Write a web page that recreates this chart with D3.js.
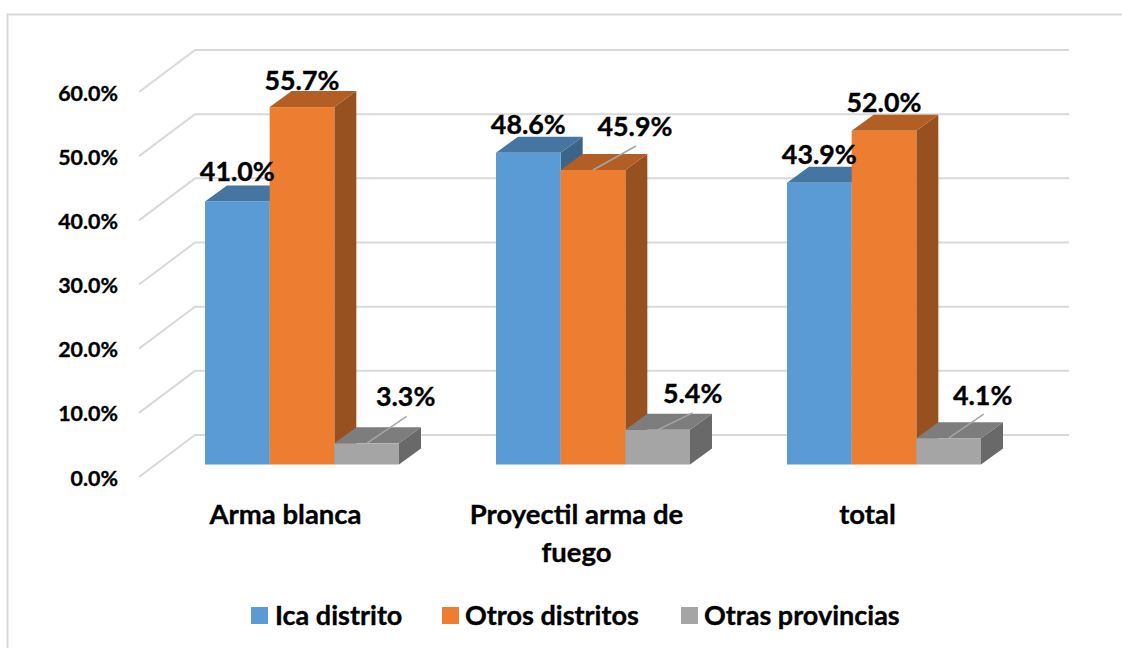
<!DOCTYPE html>
<html><head><meta charset="utf-8">
<script src="https://cdnjs.cloudflare.com/ajax/libs/d3/7.8.5/d3.min.js"></script>
<style>html,body{margin:0;padding:0;background:#fff}svg{display:block}text{font-family:Lato,Carlito,sans-serif;font-weight:700;fill:#000;stroke:#000;stroke-width:.35px}</style>
</head><body><svg id="c" width="1122" height="648"></svg>
<script>
const categories = ["Arma blanca", "Proyectil arma de fuego", "total"];
const seriesNames = ["Ica distrito", "Otros distritos", "Otras provincias"];
const icaDistrito = [41.0, 48.6, 43.9];
const otrosDistritos = [55.7, 45.9, 52.0];
const otrasProvincias = [3.3, 5.4, 4.1];
const tickValues = [0, 10, 20, 30, 40, 50, 60];
const seriesValues = [icaDistrito, otrosDistritos, otrasProvincias];
const front = ["#5b9bd5", "#ed7d31", "#a5a5a5"];
const topC = ["#4575a1", "#b25e25", "#7d7d7d"];
const side = ["#3c6488", "#97501f", "#696969"];
const fmt = v => v.toFixed(1) + "%";

const svg = d3.select("#c");
svg.append("path").attr("d","M7.5 648V14.5H1122").attr("fill","none").attr("stroke","#d9d9d9").attr("stroke-width",2);

// 3D geometry
const wallDx = 56, wallDy = -42, barDx = 22, barDy = -16;
const h = d3.scaleLinear().domain([0, 60]).range([0, 385]);
const wallY = v => 435 - h(v);
const frontY = v => 464.5 - h(v);
const x0 = d3.scaleBand().domain(categories).range([141, 1014]).paddingInner(0).paddingOuter(0);
const x1 = d3.scaleBand().domain(seriesNames).range([64, 258]);

const grid = svg.append("g");
tickValues.forEach(t => {
  grid.append("path")
    .attr("d", `M139 ${wallY(t) - wallDy}L${139 + wallDx} ${wallY(t)}H1069`)
    .attr("fill","none").attr("stroke","#d9d9d9").attr("stroke-width",2);
  svg.append("text").attr("x",118).attr("y",wallY(t)-wallDy+8.5).attr("text-anchor","end")
    .attr("font-size",21.4).text(fmt(t));
});

const bars = svg.append("g");
categories.forEach((c, ci) => {
  seriesNames.forEach((s, si) => {
    const v = seriesValues[si][ci];
    const l = x0(c) + x1(s), w = x1.bandwidth(), r = l + w, t = frontY(v), b = frontY(0);
    const g = bars.append("g");
    g.append("path").attr("fill", side[si])
      .attr("d", `M${r} ${t}L${r+barDx} ${t+barDy}V${b+barDy}L${r} ${b}Z`);
    g.append("path").attr("fill", topC[si])
      .attr("d", `M${l} ${t}L${l+barDx} ${t+barDy}H${r+barDx}L${r} ${t}Z`);
    g.append("rect").attr("x", l).attr("y", t).attr("width", w).attr("height", b - t).attr("fill", front[si]);
  });
});

// leader lines for the displaced labels
const leaders = [[1,1,43,-24],[2,0,40,-27],[2,1,35,-17],[2,2,35,-24]];
leaders.forEach(([si,ci,dx,dy]) => {
  const mx = x0(categories[ci]) + x1(seriesNames[si]) + x1.bandwidth()/2;
  const y = frontY(seriesValues[si][ci]);
  svg.append("line").attr("x1",mx).attr("y1",y).attr("x2",mx+dx).attr("y2",y+dy)
    .attr("stroke","#a6a6a6").attr("stroke-width",1.5);
});

// data labels: offset from the front-top centre of each bar
const labelOffset = [
  [[0,-30],[0,-28],[0,-28]],
  [[0,-27],[42,-43],[0,-28]],
  [[39,-47],[35,-36],[34,-43]]
];
categories.forEach((c, ci) => {
  seriesNames.forEach((s, si) => {
    const v = seriesValues[si][ci];
    const o = labelOffset[si][ci];
    svg.append("text")
      .attr("x", x0(c)+x1(s)+x1.bandwidth()/2 + o[0])
      .attr("y", frontY(v)+o[1]+9.5)
      .attr("text-anchor","middle").attr("font-size",26.8).text(fmt(v));
  });
});

// category labels
const catLines = [["Arma blanca"],["Proyectil arma de","fuego"],["total"]];
categories.forEach((c,i) => {
  catLines[i].forEach((ln,j) => {
    svg.append("text").attr("x", x0(c)+x0.bandwidth()/2-1).attr("y", 524+j*38)
      .attr("text-anchor","middle").attr("font-size",27.5).text(ln);
  });
});

// legend
const legendX = [251, 442, 681], legendTextX = [275, 465, 704];
seriesNames.forEach((s,i) => {
  svg.append("rect").attr("x",legendX[i]).attr("y",607).attr("width",17).attr("height",17).attr("fill",front[i]);
  svg.append("text").attr("x",legendTextX[i]).attr("y",625).attr("font-size",27).text(s);
});
</script></body></html>
